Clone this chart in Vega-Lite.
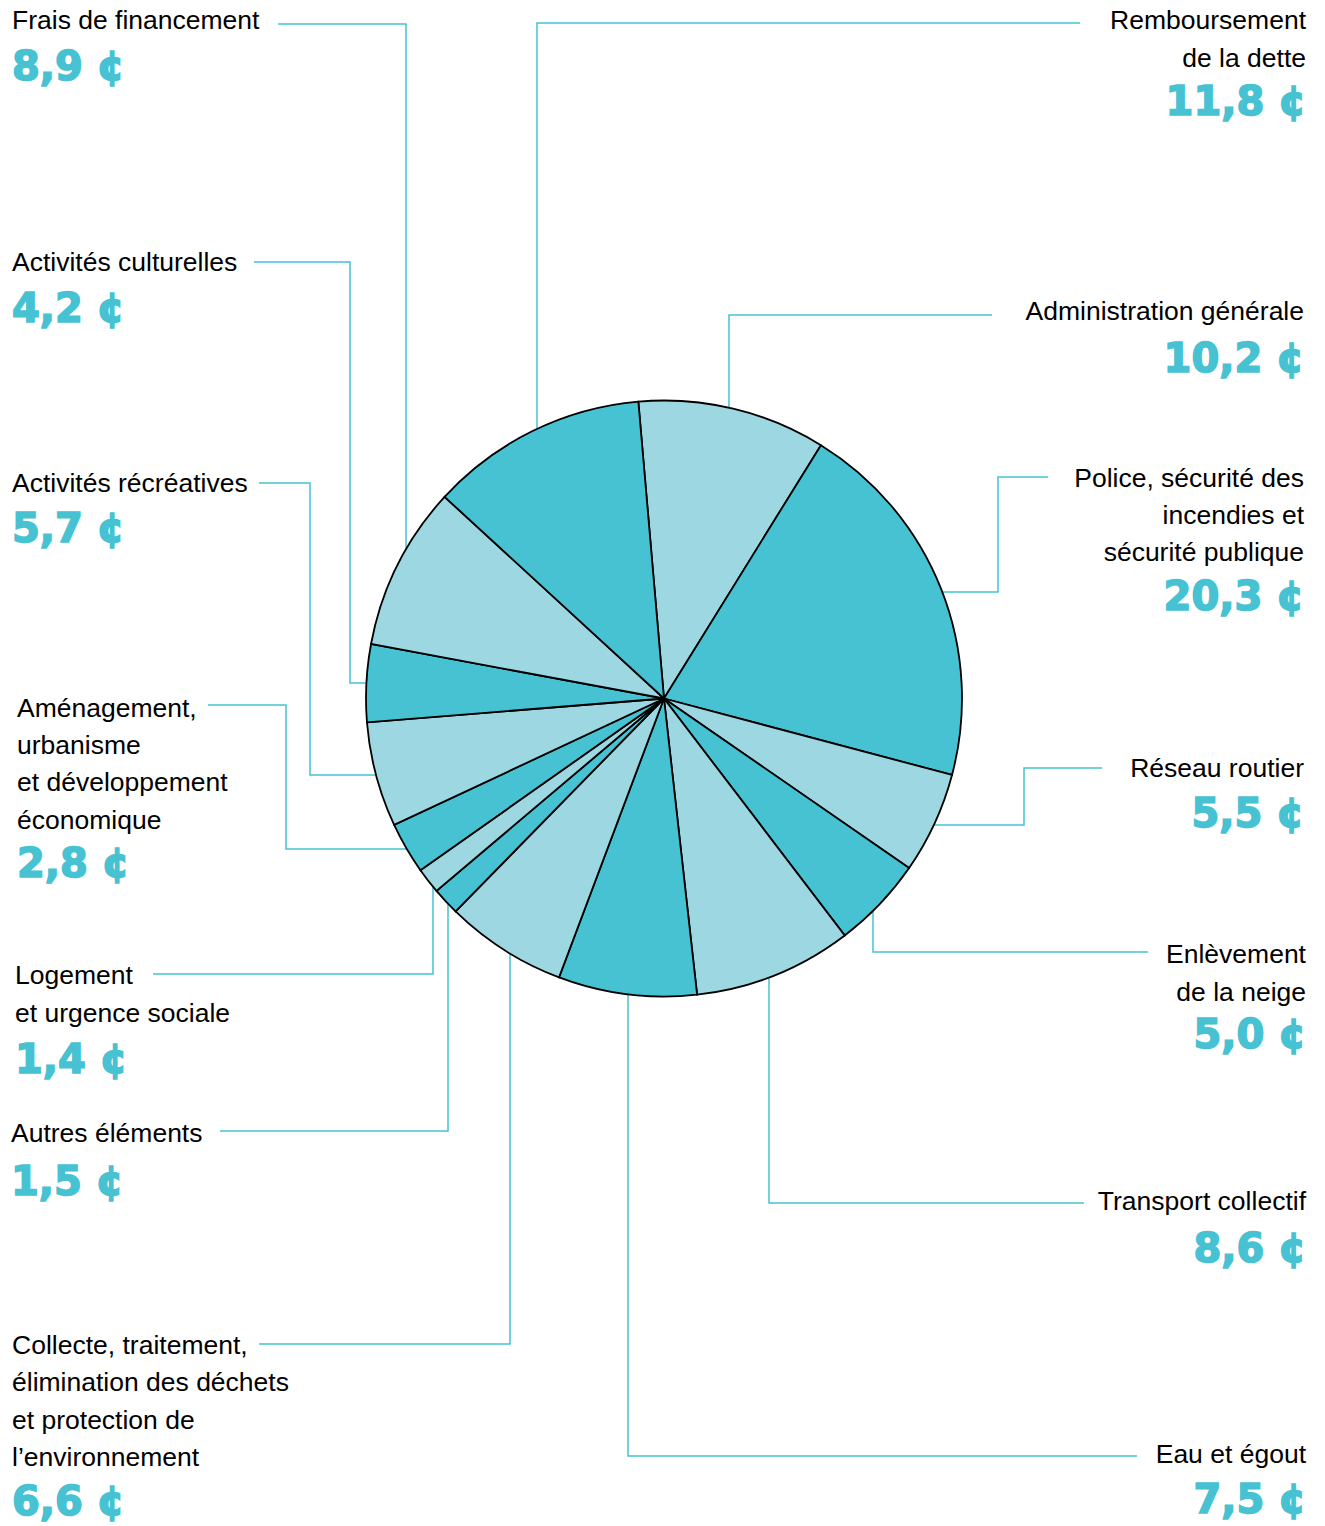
{
  "$schema": "https://vega.github.io/schema/vega-lite/v6.json",
  "width": 1325,
  "height": 1526,
  "autosize": {"type": "fit", "contains": "padding"},
  "padding": 0,
  "background": "white",
  "config": {
    "view": {"stroke": null},
    "locale": {"number": {"decimal": ",", "thousands": " ", "grouping": [3], "currency": ["", " ¢"]}}
  },
  "datasets": {
    "cats": [
      {"cat": "Administration générale", "name": "Administration générale", "value": 10.2, "order": 1, "shade": "light", "side": "right", "nx": 1304, "ny": 320, "vy": 371.7},
      {"cat": "Police", "name": "Police, sécurité des\nincendies et\nsécurité publique", "value": 20.3, "order": 2, "shade": "dark", "side": "right", "nx": 1304, "ny": 486.7, "vy": 610},
      {"cat": "Réseau routier", "name": "Réseau routier", "value": 5.5, "order": 3, "shade": "light", "side": "right", "nx": 1304, "ny": 776.7, "vy": 827.3},
      {"cat": "Enlèvement", "name": "Enlèvement\nde la neige", "value": 5.0, "order": 4, "shade": "dark", "side": "right", "nx": 1306, "ny": 963.3, "vy": 1048.3},
      {"cat": "Transport collectif", "name": "Transport collectif", "value": 8.6, "order": 5, "shade": "light", "side": "right", "nx": 1306, "ny": 1210, "vy": 1261.7},
      {"cat": "Eau et égout", "name": "Eau et égout", "value": 7.5, "order": 6, "shade": "dark", "side": "right", "nx": 1306, "ny": 1463.3, "vy": 1513.3},
      {"cat": "Collecte", "name": "Collecte, traitement,\nélimination des déchets\net protection de\nl’environnement", "value": 6.6, "order": 7, "shade": "light", "side": "left", "nx": 12, "ny": 1354, "vy": 1515},
      {"cat": "Autres éléments", "name": "Autres éléments", "value": 1.5, "order": 8, "shade": "dark", "side": "left", "nx": 11, "ny": 1142.3, "vy": 1195},
      {"cat": "Logement", "name": "Logement\net urgence sociale", "value": 1.4, "order": 9, "shade": "light", "side": "left", "nx": 15, "ny": 984.3, "vy": 1072.7},
      {"cat": "Aménagement", "name": "Aménagement,\nurbanisme\net développement\néconomique", "value": 2.8, "order": 10, "shade": "dark", "side": "left", "nx": 17, "ny": 716.7, "vy": 876.7},
      {"cat": "Activités récréatives", "name": "Activités récréatives", "value": 5.7, "order": 11, "shade": "light", "side": "left", "nx": 12, "ny": 491.7, "vy": 541.5},
      {"cat": "Activités culturelles", "name": "Activités culturelles", "value": 4.2, "order": 12, "shade": "dark", "side": "left", "nx": 12, "ny": 270.7, "vy": 321.7},
      {"cat": "Frais de financement", "name": "Frais de financement", "value": 8.9, "order": 13, "shade": "light", "side": "left", "nx": 12, "ny": 29.3, "vy": 79.5},
      {"cat": "Remboursement", "name": "Remboursement\nde la dette", "value": 11.8, "order": 14, "shade": "dark", "side": "right", "nx": 1306, "ny": 29.3, "vy": 115}
    ],
    "leaders": [
      {"cat": "Frais de financement", "seq": 1, "x": 278, "y": 24},
      {"cat": "Frais de financement", "seq": 2, "x": 406, "y": 24},
      {"cat": "Frais de financement", "seq": 3, "x": 406, "y": 556},
      {"cat": "Activités culturelles", "seq": 1, "x": 254, "y": 262},
      {"cat": "Activités culturelles", "seq": 2, "x": 350, "y": 262},
      {"cat": "Activités culturelles", "seq": 3, "x": 350, "y": 683},
      {"cat": "Activités culturelles", "seq": 4, "x": 372, "y": 683},
      {"cat": "Activités récréatives", "seq": 1, "x": 259, "y": 483},
      {"cat": "Activités récréatives", "seq": 2, "x": 310, "y": 483},
      {"cat": "Activités récréatives", "seq": 3, "x": 310, "y": 775},
      {"cat": "Activités récréatives", "seq": 4, "x": 382, "y": 775},
      {"cat": "Aménagement", "seq": 1, "x": 208, "y": 705},
      {"cat": "Aménagement", "seq": 2, "x": 286, "y": 705},
      {"cat": "Aménagement", "seq": 3, "x": 286, "y": 849},
      {"cat": "Aménagement", "seq": 4, "x": 412, "y": 849},
      {"cat": "Logement", "seq": 1, "x": 153, "y": 974},
      {"cat": "Logement", "seq": 2, "x": 433, "y": 974},
      {"cat": "Logement", "seq": 3, "x": 433, "y": 878},
      {"cat": "Autres éléments", "seq": 1, "x": 220, "y": 1131},
      {"cat": "Autres éléments", "seq": 2, "x": 448, "y": 1131},
      {"cat": "Autres éléments", "seq": 3, "x": 448, "y": 898},
      {"cat": "Collecte", "seq": 1, "x": 259, "y": 1344},
      {"cat": "Collecte", "seq": 2, "x": 510, "y": 1344},
      {"cat": "Collecte", "seq": 3, "x": 510, "y": 948},
      {"cat": "Remboursement", "seq": 1, "x": 1080, "y": 23},
      {"cat": "Remboursement", "seq": 2, "x": 537, "y": 23},
      {"cat": "Remboursement", "seq": 3, "x": 537, "y": 430},
      {"cat": "Administration générale", "seq": 1, "x": 992, "y": 315},
      {"cat": "Administration générale", "seq": 2, "x": 729, "y": 315},
      {"cat": "Administration générale", "seq": 3, "x": 729, "y": 412},
      {"cat": "Police", "seq": 1, "x": 1048, "y": 477},
      {"cat": "Police", "seq": 2, "x": 998, "y": 477},
      {"cat": "Police", "seq": 3, "x": 998, "y": 592},
      {"cat": "Police", "seq": 4, "x": 936, "y": 592},
      {"cat": "Réseau routier", "seq": 1, "x": 1102, "y": 768},
      {"cat": "Réseau routier", "seq": 2, "x": 1024, "y": 768},
      {"cat": "Réseau routier", "seq": 3, "x": 1024, "y": 825},
      {"cat": "Réseau routier", "seq": 4, "x": 928, "y": 825},
      {"cat": "Enlèvement", "seq": 1, "x": 1148, "y": 952},
      {"cat": "Enlèvement", "seq": 2, "x": 873, "y": 952},
      {"cat": "Enlèvement", "seq": 3, "x": 873, "y": 905},
      {"cat": "Transport collectif", "seq": 1, "x": 1084, "y": 1203},
      {"cat": "Transport collectif", "seq": 2, "x": 769, "y": 1203},
      {"cat": "Transport collectif", "seq": 3, "x": 769, "y": 972},
      {"cat": "Eau et égout", "seq": 1, "x": 1137, "y": 1456},
      {"cat": "Eau et égout", "seq": 2, "x": 628, "y": 1456},
      {"cat": "Eau et égout", "seq": 3, "x": 628, "y": 985}
    ]
  },
  "layer": [
    {
      "data": {"name": "leaders"},
      "mark": {"type": "line", "stroke": "#45C1D2", "strokeWidth": 1.5},
      "encoding": {
        "x": {"field": "x", "type": "quantitative", "scale": {"domain": [0, 1325], "nice": false, "zero": false}, "axis": null},
        "y": {"field": "y", "type": "quantitative", "scale": {"domain": [0, 1526], "reverse": true, "nice": false, "zero": false}, "axis": null},
        "detail": {"field": "cat"},
        "order": {"field": "seq", "type": "quantitative"}
      }
    },
    {
      "data": {"name": "cats"},
      "mark": {"type": "arc", "outerRadius": 298, "stroke": "black", "strokeWidth": 1.8},
      "encoding": {
        "x": {"datum": 664, "type": "quantitative"},
        "y": {"datum": 698.5, "type": "quantitative"},
        "theta": {"field": "value", "type": "quantitative", "stack": true, "scale": {"range": [-0.0862, 6.197]}},
        "order": {"field": "order", "type": "quantitative"},
        "color": {"field": "shade", "type": "nominal", "scale": {"domain": ["dark", "light"], "range": ["#47C2D2", "#9DD7E2"]}, "legend": null}
      }
    },
    {
      "data": {"name": "cats"},
      "transform": [{"filter": "datum.side == 'left'"}],
      "mark": {"type": "text", "align": "left", "baseline": "alphabetic", "font": "Liberation Sans", "fontSize": 26.5, "lineBreak": "\n", "lineHeight": 37.3, "color": "black"},
      "encoding": {
        "x": {"field": "nx", "type": "quantitative"},
        "y": {"field": "ny", "type": "quantitative"},
        "text": {"field": "name"}
      }
    },
    {
      "data": {"name": "cats"},
      "transform": [{"filter": "datum.side == 'right'"}],
      "mark": {"type": "text", "align": "right", "baseline": "alphabetic", "font": "Liberation Sans", "fontSize": 26.5, "lineBreak": "\n", "lineHeight": 37.3, "color": "black"},
      "encoding": {
        "x": {"field": "nx", "type": "quantitative"},
        "y": {"field": "ny", "type": "quantitative"},
        "text": {"field": "name"}
      }
    },
    {
      "data": {"name": "cats"},
      "transform": [{"filter": "datum.side == 'left'"}],
      "mark": {"type": "text", "align": "left", "baseline": "alphabetic", "font": "DejaVu Sans", "fontWeight": "bold", "fontSize": 40, "color": "#47C2D2", "stroke": "#47C2D2", "strokeWidth": 1.6},
      "encoding": {
        "x": {"field": "nx", "type": "quantitative"},
        "y": {"field": "vy", "type": "quantitative"},
        "text": {"field": "value", "type": "quantitative", "format": "$.1f"}
      }
    },
    {
      "data": {"name": "cats"},
      "transform": [{"filter": "datum.side == 'right'"}],
      "mark": {"type": "text", "align": "right", "baseline": "alphabetic", "font": "DejaVu Sans", "fontWeight": "bold", "fontSize": 40, "color": "#47C2D2", "stroke": "#47C2D2", "strokeWidth": 1.6},
      "encoding": {
        "x": {"field": "nx", "type": "quantitative"},
        "y": {"field": "vy", "type": "quantitative"},
        "text": {"field": "value", "type": "quantitative", "format": "$.1f"}
      }
    }
  ]
}
